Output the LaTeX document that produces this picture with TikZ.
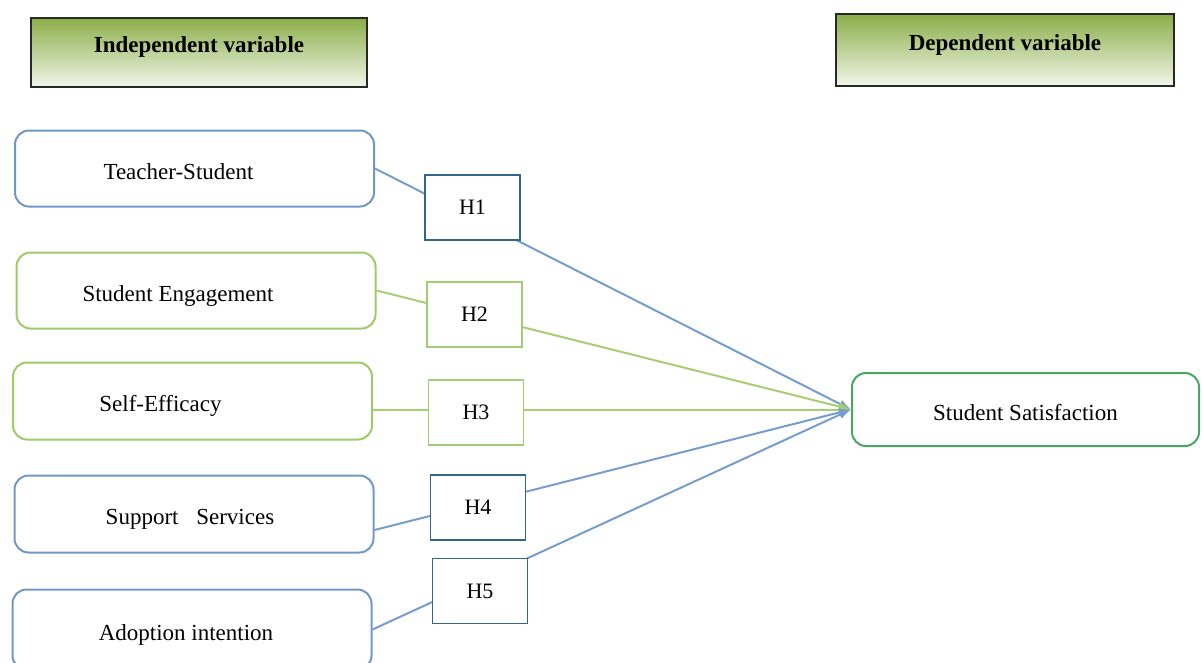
\documentclass[tikz,border=0pt]{standalone}
\usepackage{fontspec}
\setmainfont{Liberation Serif}
\usetikzlibrary{arrows.meta}
\definecolor{varblue}{RGB}{112,152,196}
\definecolor{vargreen}{RGB}{158,202,104}
\definecolor{satgreen}{RGB}{72,168,98}
\definecolor{hypblue}{RGB}{48,104,134}
\definecolor{hypgreen}{RGB}{164,204,114}
\definecolor{lineblue}{RGB}{118,158,202}
\definecolor{linegreen}{RGB}{168,206,116}
\definecolor{hdrgreen}{RGB}{138,174,72}
\definecolor{hdrlight}{RGB}{242,246,234}
\definecolor{hdrline}{RGB}{40,40,40}
\begin{document}
\begin{tikzpicture}[x=1pt, y=-1pt,
  header/.style={draw=hdrline, line width=2.2pt, top color=hdrgreen, middle color=hdrgreen!92, bottom color=hdrlight,
    font=\fontsize{23}{27}\selectfont\bfseries, minimum width=336pt, minimum height=69pt, text depth=15pt, inner sep=0pt},
  factor/.style={draw, rounded corners=14pt, line width=2pt, fill=white,
    font=\fontsize{23}{27}\selectfont, minimum width=359pt, minimum height=76pt, inner sep=0pt,
    text height=26pt, text depth=5pt},
  hyp/.style={draw, line width=1.8pt, fill=white,
    font=\fontsize{22}{26}\selectfont, minimum width=95pt, minimum height=65pt, inner sep=0pt},
  link/.style={line width=2pt, -{Latex[length=12pt,width=9pt]}}]
\clip (0,0) rectangle (1202,662);
% headings
\node[header] (indep) at (199,52.5) {Independent variable};
\node[header, minimum width=338pt, minimum height=72pt] (dep) at (1005,50) {Dependent variable};
% independent variables
\node[factor, draw=varblue] (teach) at (194.5,168.5) {Teacher-Student\hspace*{32pt}};
\node[factor, draw=vargreen] (engage) at (196,290.5) {Student Engagement\hspace*{36pt}};
\node[factor, draw=vargreen, minimum height=77pt] (efficacy) at (192.5,401) {Self-Efficacy\hspace*{64pt}};
\node[factor, draw=varblue, minimum height=77pt] (support) at (194,514) {Support\hspace{12pt} Services\hspace*{8pt}};
\node[factor, draw=varblue, minimum height=80pt] (adopt) at (192,629.5) {Adoption intention\hspace*{12pt}};
% dependent variable
\node[factor, draw=satgreen, minimum width=347pt, minimum height=73pt] (satisf) at (1025.5,409.5) {Student Satisfaction};
% paths
\draw[link, lineblue] (teach.east) -- (satisf.west);
\draw[link, linegreen] (engage.east) -- (satisf.west);
\draw[link, linegreen] (efficacy.east |- satisf.west) -- (satisf.west);
\draw[link, lineblue] ([yshift=-16pt]support.east) -- (satisf.west);
\draw[link, lineblue] (adopt.east) -- (satisf.west);
% hypotheses
\node[hyp, draw=hypblue] (h1) at (472.5,207.5) {H1};
\node[hyp, draw=hypgreen] (h2) at (474.5,314.5) {H2};
\node[hyp, draw=hypgreen] (h3) at (476,412.5) {H3};
\node[hyp, draw=hypblue] (h4) at (478,507.5) {H4};
\node[hyp, draw=hypblue] (h5) at (480,591) {H5};
\end{tikzpicture}
\end{document}
